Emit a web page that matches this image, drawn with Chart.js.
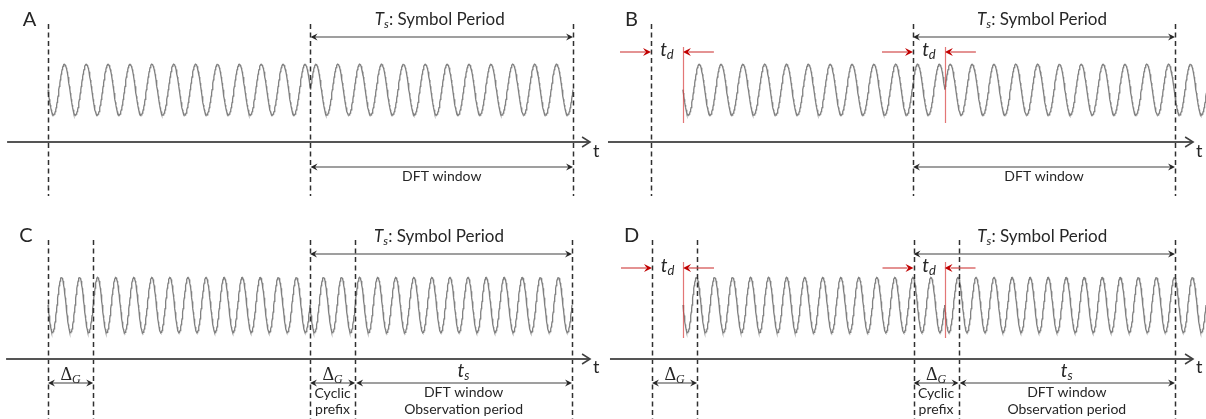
<!DOCTYPE html>
<html>
<head>
<meta charset="utf-8">
<script src="https://cdn.jsdelivr.net/npm/chart.js@4"></script>
<style>
  html, body { margin: 0; padding: 0; background: #fff; }
  #wrap { position: relative; width: 1206px; height: 419px; }
</style>
</head>
<body>
<div id="wrap"><canvas id="ofdm"></canvas></div>
<script>
// time unit on every x axis = one carrier cycle
var symbolEdges = [0, 12, 24];           // A, B: plain symbols
var guardEdges = [0, 2.5, 14.5, 17, 29]; // C, D: guard interval + DFT window
var delays = [0, 1.46, 0, 1.72];         // t_d for A..D
// each symbol: [start, end, phase at start (cycles)]
var symbolsPlain = [[0, 12, 0.5], [12, 24, 0]];
var symbolsGuard = [[0, 14.5, 0.5], [14.5, 29, 0.5]];
var panelLetters = ['A', 'B', 'C', 'D'];
var samplesPerCycle = 48;

var sans = 'Lato, "Open Sans", sans-serif';
var serif = '"Liberation Serif", "DejaVu Serif", serif';
var ink = '#262626';
var red = '#c00000';

var symbolPeriodText = [['T', 'italic 17px ' + sans], ['s', 'italic 12px ' + sans, 3], [': Symbol Period', '17px ' + sans]];
var deltaGText = [['\u0394', '18px ' + serif], ['G', 'italic 12px ' + serif, 3]];
var tdText = [['t', 'italic 19px ' + sans], ['d', 'italic 13px ' + sans, 3]];
var tsText = [['t', 'italic 19px ' + sans], ['s', 'italic 13px ' + sans, 3]];
var smallFont = '14px ' + sans;

function buildWave(symbols, delay) {
  var pts = [];
  symbols.forEach(function (s) {
    var n = Math.round((s[1] - s[0]) * samplesPerCycle);
    for (var i = 0; i <= n; i++) {
      var t = s[0] + (s[1] - s[0]) * i / n;
      pts.push({x: t + delay, y: Math.sin(2 * Math.PI * (s[2] + t - s[0]))});
    }
  });
  return pts;
}

// linear scale that puts t=0 at px0 with the given pixels per cycle
function xScale(px0, pxPerCycle) {
  return {type: 'linear', display: false, min: -px0 / pxPerCycle, max: (1206 - px0) / pxPerCycle};
}
function yScale(mid, amp) {
  return {type: 'linear', display: false, min: (mid - 419) / amp, max: mid / amp};
}

var topRows = {letter: 25.5, dashTop: 24, dashBottom: 196, span: 37, spanText: 24.5, red: 52, redTop: 47, redBottom: 123,
  axis: 142, axisText: 157, low: 167, lowText: 180.5};
var bottomRows = {letter: 242, dashTop: 240, dashBottom: 419, span: 254, spanText: 241.5, red: 268, redTop: 262, redBottom: 338,
  axis: 359, axisText: 373, low: 383, lowText: 379.5};

var panels = [
  {x: 'xA', rows: topRows, edges: symbolEdges, delay: delays[0], letterX: 29.5, axisFrom: -1.87, axisTo: 24.78},
  {x: 'xB', rows: topRows, edges: symbolEdges, delay: delays[1], letterX: 631.5, axisFrom: -1.97, axisTo: 24.83},
  {x: 'xC', rows: bottomRows, edges: guardEdges, delay: delays[2], letterX: 26, axisFrom: -2.32, axisTo: 30.0, guard: true},
  {x: 'xD', rows: bottomRows, edges: guardEdges, delay: delays[3], letterX: 631.5, axisFrom: -2.33, axisTo: 30.0, guard: true}
];

function drawParts(ctx, parts, cx, base, color) {
  var w = 0;
  parts.forEach(function (p) { ctx.font = p[1]; w += ctx.measureText(p[0]).width; });
  var x = cx - w / 2;
  ctx.fillStyle = color;
  ctx.textAlign = 'left';
  ctx.textBaseline = 'alphabetic';
  parts.forEach(function (p) {
    ctx.font = p[1];
    ctx.fillText(p[0], x, base + (p[2] || 0));
    x += ctx.measureText(p[0]).width;
  });
}

function head(ctx, x, y, dir, len, half, color) {
  ctx.fillStyle = color;
  ctx.beginPath();
  ctx.moveTo(x, y);
  ctx.lineTo(x - dir * len, y - half);
  ctx.lineTo(x - dir * len * 0.65, y);
  ctx.lineTo(x - dir * len, y + half);
  ctx.closePath();
  ctx.fill();
}

function hline(ctx, x1, x2, y, color, w) {
  ctx.strokeStyle = color;
  ctx.lineWidth = w;
  ctx.beginPath();
  ctx.moveTo(x1, y);
  ctx.lineTo(x2, y);
  ctx.stroke();
}

function span(ctx, x1, x2, y) {
  hline(ctx, x1 + 2, x2 - 2, y, '#404040', 1.2);
  head(ctx, x1, y, -1, 7, 3.5, '#262626');
  head(ctx, x2, y, 1, 7, 3.5, '#262626');
}

var marks = {
  id: 'marks',
  afterDatasetsDraw: function (chart) {
    var ctx = chart.ctx;
    ctx.save();
    panels.forEach(function (p, i) {
      var sx = chart.scales[p.x];
      var px = function (t) { return sx.getPixelForValue(t); };
      var r = p.rows;
      var e = p.edges;
      var last = e.length - 1;
      var ts = e[last] / 2;

      ctx.fillStyle = ink;
      ctx.font = '20px ' + sans;
      ctx.textAlign = 'center';
      ctx.textBaseline = 'alphabetic';
      ctx.fillText(panelLetters[i], p.letterX, r.letter);

      // symbol boundaries
      ctx.strokeStyle = '#303030';
      ctx.lineWidth = 1.5;
      ctx.setLineDash([5, 3.5]);
      e.forEach(function (t) {
        ctx.beginPath();
        ctx.moveTo(Math.round(px(t)) + 0.5, r.dashTop);
        ctx.lineTo(Math.round(px(t)) + 0.5, r.dashBottom);
        ctx.stroke();
      });
      ctx.setLineDash([]);

      // time axis
      var a0 = px(p.axisFrom), a1 = px(p.axisTo);
      hline(ctx, a0, a1, r.axis, '#555555', 2);
      ctx.strokeStyle = '#404040';
      ctx.lineWidth = 1.5;
      ctx.beginPath();
      ctx.moveTo(a1 - 8, r.axis - 5);
      ctx.lineTo(a1, r.axis);
      ctx.lineTo(a1 - 8, r.axis + 5);
      ctx.stroke();
      ctx.fillStyle = ink;
      ctx.font = '18px ' + sans;
      ctx.textAlign = 'left';
      ctx.fillText('t', a1 + 3, r.axisText);

      // symbol period
      var s0 = p.guard ? e[2] : e[1];
      span(ctx, px(s0), px(e[last]), r.span);
      drawParts(ctx, symbolPeriodText, (px(s0) + px(e[last])) / 2 - 2, r.spanText, ink);

      if (!p.guard) {
        span(ctx, px(e[1]), px(e[2]), r.low);
        drawParts(ctx, [['DFT window', smallFont]], (px(e[1]) + px(e[2])) / 2, r.lowText, ink);
      } else {
        span(ctx, px(e[0]), px(e[1]), r.low);
        span(ctx, px(e[2]), px(e[3]), r.low);
        span(ctx, px(e[3]) + 1, px(e[4]), r.low);
        drawParts(ctx, deltaGText, (px(e[0]) + px(e[1])) / 2, r.lowText, ink);
        drawParts(ctx, deltaGText, (px(e[2]) + px(e[3])) / 2, r.lowText, ink);
        var mid = (px(e[3]) + px(e[4])) / 2;
        drawParts(ctx, tsText, mid, r.lowText - 2.5, ink);
        drawParts(ctx, [['DFT window', smallFont]], mid, r.lowText + 17, ink);
        drawParts(ctx, [['Observation period', smallFont]], mid, r.lowText + 34, ink);
        var cp = (px(e[2]) + px(e[3])) / 2;
        drawParts(ctx, [['Cyclic', smallFont]], cp, r.lowText + 18, ink);
        drawParts(ctx, [['prefix', smallFont]], cp, r.lowText + 34.5, ink);
      }

      // channel delay t_d at each symbol start
      if (p.delay > 0) {
        [0, ts].forEach(function (t0) {
          var xs = px(t0), xd = px(t0 + p.delay);
          hline(ctx, xs - 31, xs - 6, r.red, '#d24a4a', 1.2);
          head(ctx, xs, r.red, 1, 8, 4, red);
          hline(ctx, xd + 31, xd + 6, r.red, '#d24a4a', 1.2);
          head(ctx, xd, r.red, -1, 8, 4, red);
          ctx.strokeStyle = 'rgba(215,60,60,0.7)';
          ctx.lineWidth = 1.2;
          ctx.beginPath();
          ctx.moveTo(Math.round(xd) + 0.5, r.redTop);
          ctx.lineTo(Math.round(xd) + 0.5, r.redBottom);
          ctx.stroke();
          drawParts(ctx, tdText, (xs + xd) / 2, r.red + 4, ink);
        });
      }
    });
    ctx.restore();
  }
};

new Chart(document.getElementById('ofdm'), {
  type: 'line',
  data: {
    datasets: [
      {data: buildWave(symbolsPlain, delays[0]), xAxisID: 'xA', yAxisID: 'yTop'},
      {data: buildWave(symbolsPlain, delays[1]), xAxisID: 'xB', yAxisID: 'yTop'},
      {data: buildWave(symbolsGuard, delays[2]), xAxisID: 'xC', yAxisID: 'yBottom'},
      {data: buildWave(symbolsGuard, delays[3]), xAxisID: 'xD', yAxisID: 'yBottom'}
    ]
  },
  options: {
    responsive: true,
    maintainAspectRatio: false,
    animation: false,
    events: [],
    layout: {padding: 0},
    elements: {
      line: {borderColor: '#808080', borderWidth: 1.3, tension: 0},
      point: {radius: 0}
    },
    plugins: {legend: {display: false}, tooltip: {enabled: false}},
    scales: {
      xA: xScale(48, (573 - 48) / 24),
      xB: xScale(651, (1175 - 651) / 24),
      xC: xScale(48, (572 - 48) / 29),
      xD: xScale(652, (1175 - 652) / 29),
      yTop: yScale(89.65, 25.35),
      yBottom: yScale(305, 27.6)
    }
  },
  plugins: [marks]
});
</script>
</body>
</html>
